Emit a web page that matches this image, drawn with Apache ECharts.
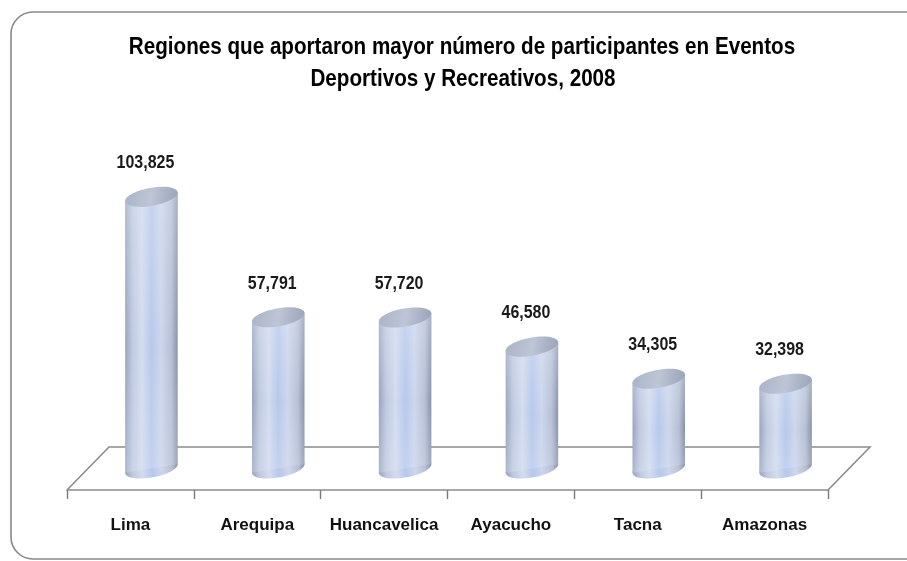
<!DOCTYPE html>
<html>
<head>
<meta charset="utf-8">
<script src="https://cdn.jsdelivr.net/npm/echarts@6/dist/echarts.min.js"></script>
<style>
  html, body { margin: 0; padding: 0; background: #fff; }
  #main { width: 907px; height: 561px; }
</style>
</head>
<body>
<div id="main"></div>
<script>
// datos del gráfico
var regiones = ['Lima', 'Arequipa', 'Huancavelica', 'Ayacucho', 'Tacna', 'Amazonas'];
var participantes = [103825, 57791, 57720, 46580, 34305, 32398];
var tituloL1 = 'Regiones que aportaron mayor número de participantes en Eventos';
var tituloL2 = 'Deportivos y Recreativos, 2008';

var FONT = '"Liberation Sans", Arial, sans-serif';
var DX = 42, DY = 43;   // profundidad del piso 3D
var TILT = 0.18;        // inclinación de la elipse

var chart = echarts.init(document.getElementById('main'));

function fmt(v) {
  return v.toString().replace(/\B(?=(\d{3})+(?!\d))/g, ',');
}

function bodyGradient() {
  return new echarts.graphic.LinearGradient(0, 0, 1, 0, [
    { offset: 0, color: '#98a4be' },
    { offset: 0.14, color: '#c0cae0' },
    { offset: 0.32, color: '#d4dcee' },
    { offset: 0.5, color: '#b6c8ec' },
    { offset: 0.68, color: '#cdd6eb' },
    { offset: 0.88, color: '#b6bfd4' },
    { offset: 1, color: '#8791a8' }
  ]);
}

// piso en perspectiva
function renderFloor(params, api) {
  var cs = params.coordSys;
  var x0 = cs.x, x1 = cs.x + cs.width, y0 = cs.y + cs.height;
  return {
    type: 'polyline',
    shape: { points: [[x0, y0], [x0 + DX, y0 - DY], [x1 + DX, y0 - DY], [x1, y0]] },
    style: { stroke: '#8c8c8c', lineWidth: 1.6, fill: null }
  };
}

// cilindros
function renderCylinder(params, api) {
  var idx = api.value(0);
  var val = api.value(1);
  var base = api.coord([idx, 0]);
  var top = api.coord([idx, val]);
  var catW = api.size([1, 0])[0];
  var cx = base[0] + DX / 2;
  var botY = base[1] - DY / 2;
  var topY = top[1] - DY / 2;
  var rx = catW * 0.21, ry = 9;
  var s = Math.sin(TILT), c = Math.cos(TILT);
  var ex = Math.sqrt(rx * rx * c * c + ry * ry * s * s);
  var dy = (rx * rx - ry * ry) * s * c / ex;
  var body = [[cx - ex, topY + dy], [cx + ex, topY - dy], [cx + ex, botY - dy], [cx - ex, botY + dy]];

  return {
    type: 'group',
    children: [
      {
        type: 'ellipse',
        shape: { cx: cx, cy: botY, rx: rx, ry: ry },
        originX: cx, originY: botY, rotation: TILT,
        style: { fill: bodyGradient() }
      },
      {
        type: 'polygon',
        shape: { points: body },
        style: { fill: bodyGradient() }
      },
      {
        type: 'polygon',
        shape: { points: body },
        style: {
          fill: new echarts.graphic.LinearGradient(0, 0, 0, 1, [
            { offset: 0, color: 'rgba(230,236,248,0.35)' },
            { offset: 0.55, color: 'rgba(230,236,248,0)' },
            { offset: 1, color: 'rgba(230,236,248,0.25)' }
          ])
        }
      },
      {
        type: 'ellipse',
        shape: { cx: cx, cy: topY, rx: rx, ry: ry },
        originX: cx, originY: topY, rotation: TILT,
        style: {
          fill: new echarts.graphic.LinearGradient(0, 0, 1, 1, [
            { offset: 0, color: '#aab3c7' },
            { offset: 0.5, color: '#bdc5d6' },
            { offset: 1, color: '#98a2b7' }
          ])
        }
      },
      {
        type: 'text',
        x: cx - 6,
        y: topY - 34,
        scaleX: 0.84,
        style: {
          text: fmt(val),
          x: 0,
          y: 0,
          align: 'center',
          verticalAlign: 'middle',
          font: 'bold 19px ' + FONT,
          fill: '#1a1a1a'
        }
      }
    ]
  };
}

var option = {
  animation: false,
  graphic: [
    {
      type: 'rect',
      shape: { x: 11, y: 12, width: 960, height: 547, r: 22 },
      style: { fill: null, stroke: '#8a8a8a', lineWidth: 1.6 },
      silent: true
    },
    {
      type: 'text',
      x: 462, y: 47, scaleX: 0.86,
      style: {
        text: tituloL1, align: 'center', verticalAlign: 'middle',
        font: 'bold 24px ' + FONT, fill: '#000'
      },
      silent: true
    },
    {
      type: 'text',
      x: 463, y: 79, scaleX: 0.86,
      style: {
        text: tituloL2, align: 'center', verticalAlign: 'middle',
        font: 'bold 24px ' + FONT, fill: '#000'
      },
      silent: true
    }
  ],
  grid: { left: 67, right: 79, top: 176, bottom: 71 },
  xAxis: {
    type: 'category',
    data: regiones,
    boundaryGap: true,
    axisLine: { show: true, lineStyle: { color: '#8c8c8c', width: 1.6 } },
    axisTick: { show: true, interval: 0, length: 9, lineStyle: { color: '#7a7a7a', width: 1.4 } },
    axisLabel: {
      interval: 0,
      margin: 27,
      fontFamily: FONT,
      fontSize: 17,
      fontWeight: 'bold',
      color: '#111'
    }
  },
  yAxis: {
    type: 'value',
    min: 0,
    max: 120000,
    show: false,
    splitLine: { show: false }
  },
  series: [
    {
      type: 'custom',
      z: 1,
      renderItem: renderFloor,
      data: [[0, 0]],
      silent: true
    },
    {
      type: 'custom',
      z: 2,
      renderItem: renderCylinder,
      data: participantes.map(function (v, i) { return [i, v]; }),
      silent: true
    }
  ]
};

chart.setOption(option);
</script>
</body>
</html>
